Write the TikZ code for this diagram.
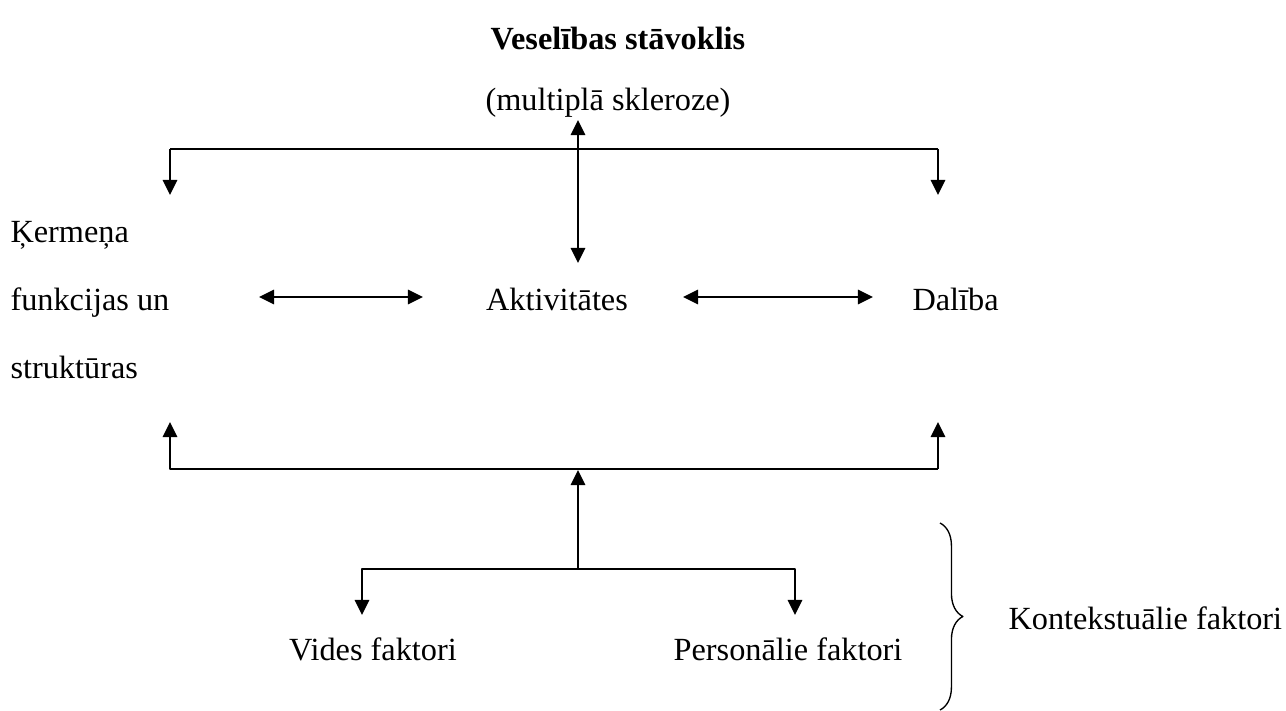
\documentclass[tikz,border=0pt]{standalone}
\usepackage{fontspec}
\setmainfont{Liberation Serif}
\usetikzlibrary{arrows.meta,decorations.pathreplacing}
\begin{document}
\begin{tikzpicture}[x=0.3715pt,y=-0.3715pt,>={Triangle[width=5.2pt,length=5.6pt]},
    font=\fontsize{12}{14}\selectfont, line join=round,
    lbl/.style={inner sep=0pt,anchor=base},
    conn/.style={line width=1.1pt}]
  \useasboundingbox (0,0) rectangle (1286,711);
  \def\xl{170} \def\xm{578} \def\xr{938}
  \def\ytop{149} \def\ymid{469} \def\ylow{569}
  % labels
  \node[lbl] (vs) at (618,50) {\textbf{Veselības stāvoklis}};
  \node[lbl] (ms) at (608,111) {(multiplā skleroze)};
  \node[lbl,anchor=base west] (ke) at (10,243) {Ķermeņa};
  \node[lbl,anchor=base west] (fu) at (10,311) {funkcijas un};
  \node[lbl,anchor=base west] (st) at (10,379) {struktūras};
  \node[lbl] (ak) at (557,311) {Aktivitātes};
  \node[lbl,anchor=base west] (da) at (912,311) {Dalība};
  \node[lbl] (vf) at (373,660) {Vides faktori};
  \node[lbl] (pf) at (788,660) {Personālie faktori};
  \node[lbl,anchor=base west] (kf) at (1008,630) {Kontekstuālie faktori};
  % top branch
  \coordinate (tup) at (\xm,120);
  \coordinate (tdn) at (\xm,263);
  \coordinate (tl) at (\xl,\ytop); \coordinate (tr) at (\xr,\ytop);
  \coordinate (tla) at (\xl,195); \coordinate (tra) at (\xr,195);
  \draw[conn,<->] (tup) -- (tdn);
  \draw[conn,->] (tl) -- (tla);
  \draw[conn] (tl) -- (tr);
  \draw[conn,->] (tr) -- (tra);
  % middle arrows
  \coordinate (h1) at (259,297); \coordinate (h2) at (423,297);
  \coordinate (h3) at (683,297); \coordinate (h4) at (873,297);
  \draw[conn,<->] (h1) -- (h2);
  \draw[conn,<->] (h3) -- (h4);
  % lower branch
  \coordinate (ml) at (\xl,\ymid); \coordinate (mr) at (\xr,\ymid);
  \coordinate (mla) at (\xl,422); \coordinate (mra) at (\xr,422);
  \coordinate (mc) at (\xm,470);
  \draw[conn,->] (mr) -- (mra);
  \draw[conn,->] (mr) -- (ml) -- (mla);
  \coordinate (bc) at (\xm,\ylow);
  \coordinate (bl) at (362,\ylow); \coordinate (br) at (795,\ylow);
  \coordinate (bla) at (362,615); \coordinate (bra) at (795,615);
  \draw[conn,->] (bc) -- (mc);
  \draw[conn,->] (bc) -- (bl) -- (bla);
  \draw[conn,->] (bc) -- (br) -- (bra);
  % brace
  \coordinate (k1) at (940,523); \coordinate (k2) at (940,710);
  \draw[line width=0.5pt,decorate,decoration={brace,amplitude=8.5pt}] (k1) -- (k2);
\end{tikzpicture}
\end{document}
